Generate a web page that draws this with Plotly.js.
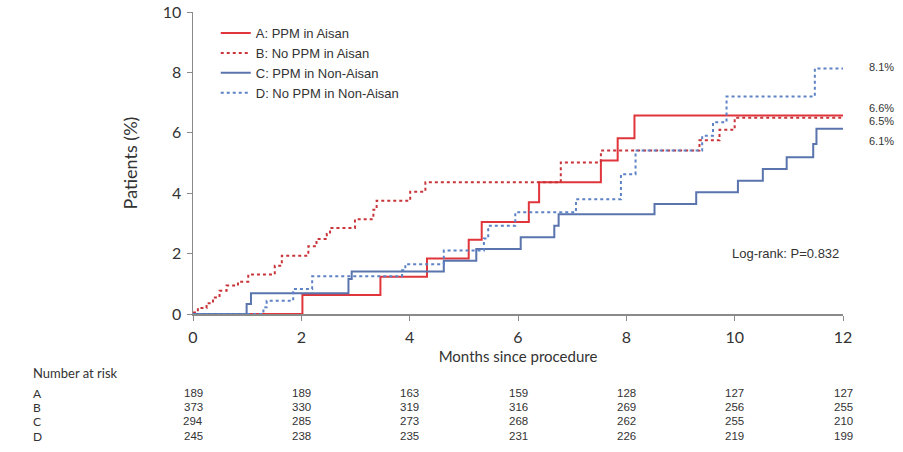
<!DOCTYPE html>
<html>
<head>
<meta charset="utf-8">
<script src="https://cdn.plot.ly/plotly-3.0.1.min.js"></script>
<style>html,body{margin:0;padding:0;background:#fff;}#chart{width:903px;height:452px;}</style>
</head>
<body>
<div id="chart"></div>
<script>
// ---- Data ----
const seriesNames = ["A: PPM in Aisan", "B: No PPM in Aisan", "C: PPM in Non-Aisan", "D: No PPM in Non-Aisan"];
const rowLetters = ["A", "B", "C", "D"];

const monthsA = [0, 2.02, 3.46, 4.32, 5.09, 5.33, 6.2, 6.39, 7.53, 7.84, 8.15, 12];
const pctA    = [0, 0.63, 1.23, 1.84, 2.46, 3.05, 3.7, 4.36, 5.08, 5.82, 6.57, 6.57];

const monthsB = [0, 0.09, 0.25, 0.37, 0.49, 0.62, 0.83, 1.02, 1.51, 1.64, 2.13, 2.28, 2.47, 2.53, 2.99, 3.33, 3.39, 4.01, 4.29, 6.79, 7.53, 9.35, 9.72, 10.0, 12];
const pctB    = [0.05, 0.2, 0.36, 0.55, 0.77, 0.94, 1.07, 1.31, 1.6, 1.93, 2.24, 2.48, 2.65, 2.85, 3.14, 3.45, 3.75, 4.05, 4.36, 5.02, 5.41, 5.75, 6.1, 6.5, 6.5];

const monthsC = [0, 0.99, 1.07, 2.87, 2.93, 4.63, 5.23, 6.05, 6.67, 6.75, 8.52, 9.29, 10.06, 10.52, 10.96, 11.45, 11.51, 12];
const pctC    = [0, 0.33, 0.69, 1.16, 1.41, 1.76, 2.15, 2.54, 2.92, 3.3, 3.64, 4.03, 4.41, 4.8, 5.19, 5.63, 6.13, 6.13];

const monthsD = [0, 1.3, 1.36, 1.85, 2.2, 3.86, 3.92, 4.63, 5.37, 5.45, 5.95, 7.07, 7.9, 8.17, 9.4, 9.6, 9.85, 11.48, 12];
const pctD    = [0, 0.22, 0.44, 0.83, 1.25, 1.45, 1.65, 2.1, 2.5, 2.92, 3.37, 3.8, 4.63, 5.41, 5.9, 6.35, 7.2, 8.13, 8.13];

const endLabels = ["6.6%", "6.5%", "6.1%", "8.1%"];

const riskMonths = [0, 2, 4, 6, 8, 10, 12];
const riskA = [189, 189, 163, 159, 128, 127, 127];
const riskB = [373, 330, 319, 316, 269, 256, 255];
const riskC = [294, 285, 273, 268, 262, 255, 210];
const riskD = [245, 238, 235, 231, 226, 219, 199];

const xTicks = [0, 2, 4, 6, 8, 10, 12];
const yTicks = [0, 2, 4, 6, 8, 10];
const pText = "Log-rank: P=0.832";

// ---- Styles ----
const colors = ["#e0353b", "#c8343a", "#5a74ae", "#5d82c6"];
const dashes = ["solid", "dot", "solid", "dot"];
const allMonths = [monthsA, monthsB, monthsC, monthsD];
const allPct = [pctA, pctB, pctC, pctD];
const allRisk = [riskA, riskB, riskC, riskD];
const endShift = [8, -3, -12, 1];

const sans = "Liberation Sans, Arial, sans-serif";
const human = "Lato, sans-serif";

const traces = seriesNames.map((n, i) => ({
  x: allMonths[i], y: allPct[i], name: n, type: "scatter", mode: "lines",
  line: {shape: "hv", color: colors[i], width: 2, dash: dashes[i]},
  legendgroup: "g" + i, hoverinfo: "skip"
}));

const annotations = [];
// end labels
seriesNames.forEach((n, i) => {
  const arr = allPct[i];
  annotations.push({xref: "paper", yref: "y", x: 1, y: arr[arr.length - 1], xanchor: "left", yanchor: "middle",
    xshift: 24, yshift: endShift[i], text: endLabels[i], showarrow: false,
    font: {family: sans, size: 11, color: "#333"}});
});
// log-rank
annotations.push({xref: "paper", yref: "paper", x: 1, y: 0.199, xanchor: "right", yanchor: "middle", xshift: -2,
  text: pText, showarrow: false, font: {family: sans, size: 13, color: "#333"}});
// number at risk
annotations.push({xref: "paper", yref: "paper", x: 0, y: 0, xanchor: "left", yanchor: "middle", xshift: -162, yshift: -59,
  text: "Number at risk", showarrow: false, font: {family: human, size: 13, color: "#333"}});
const rowShift = [-79, -93, -107, -122];
rowLetters.forEach((L, r) => {
  annotations.push({xref: "paper", yref: "paper", x: 0, y: 0, xanchor: "left", yanchor: "middle", xshift: -162, yshift: rowShift[r],
    text: L, showarrow: false, font: {family: human, size: 12, color: "#333"}});
  riskMonths.forEach((m, j) => {
    annotations.push({xref: "x", yref: "paper", x: m, y: 0, xanchor: "center", yanchor: "middle", yshift: rowShift[r],
      text: String(allRisk[r][j]), showarrow: false, font: {family: sans, size: 11.5, color: "#333"}});
  });
});

const layout = {
  width: 903, height: 452,
  margin: {l: 193, r: 60, t: 12, b: 138},
  paper_bgcolor: "#fff", plot_bgcolor: "#fff",
  showlegend: true,
  legend: {x: 0.035, y: 0.98, xanchor: "left", yanchor: "top", bgcolor: "rgba(0,0,0,0)",
    font: {family: sans, size: 13, color: "#333"}, tracegroupgap: 0, itemwidth: 30},
  xaxis: {range: [0, 12], tickvals: xTicks, ticktext: xTicks.map(String), showgrid: false, zeroline: false,
    showline: true, linecolor: "#8a8a8a", linewidth: 1.5, ticks: "outside", ticklen: 5, tickcolor: "#8a8a8a",
    ticklabelstandoff: 3,
    tickfont: {family: human, size: 16, color: "#333"},
    title: {text: "Months since procedure", font: {family: human, size: 15, color: "#333"}, standoff: 7}},
  yaxis: {range: [0, 10], tickvals: yTicks, ticktext: yTicks.map(String), showgrid: false, zeroline: false,
    showline: true, linecolor: "#8a8a8a", linewidth: 1.5, ticks: "outside", ticklen: 5, tickcolor: "#8a8a8a",
    ticklabelstandoff: 2,
    tickfont: {family: human, size: 16, color: "#333"},
    title: {text: "Patients (%)", font: {family: human, size: 18, color: "#333"}, standoff: 20}},
  annotations: annotations
};

Plotly.newPlot("chart", traces, layout, {displayModeBar: false, staticPlot: true});
</script>
</body>
</html>
